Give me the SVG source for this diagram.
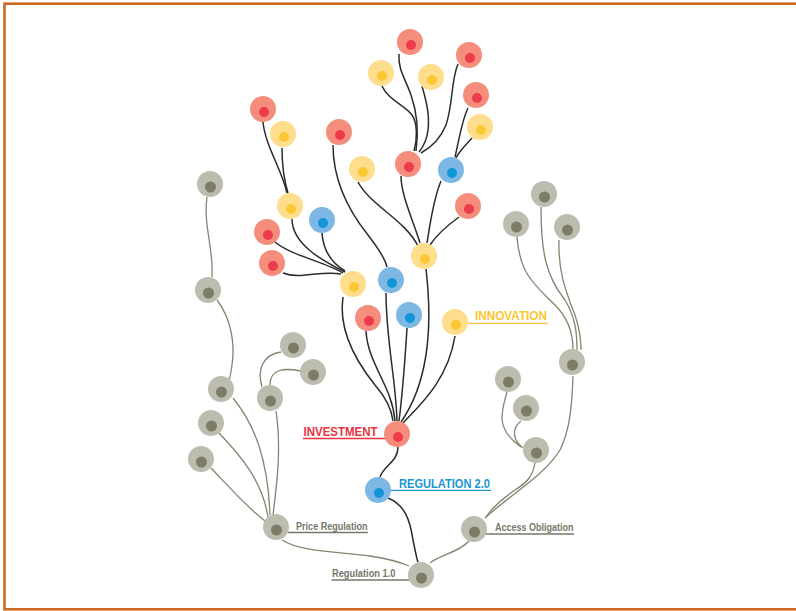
<svg xmlns="http://www.w3.org/2000/svg" width="796" height="611" viewBox="0 0 796 611">
<style>
.e{fill:none;stroke:#2b2b2b;stroke-width:1.5}
.g{fill:none;stroke:#84846f;stroke-width:1.3}
.ro{fill:#f58d7d}.ri{fill:#ec3b4b}
.yo{fill:#fedd8c}.yi{fill:#fcc733}
.bo{fill:#7cb8e3}.bi{fill:#1195d6}
.go{fill:#bdbdaf}.gi{fill:#7c7c67}
.lbl{font-family:"Liberation Sans",Arial,sans-serif;font-weight:bold}
.gl{font-size:10px;fill:#77776a}
.ul{stroke-width:1.3}
</style>
<defs>
<g id="red"><circle class="ro" r="13"/><circle class="ri" cx="1" cy="3" r="5"/></g>
<g id="yel"><circle class="yo" r="13"/><circle class="yi" cx="1" cy="3" r="5"/></g>
<g id="blu"><circle class="bo" r="13"/><circle class="bi" cx="1" cy="3" r="5"/></g>
<g id="gry"><circle class="go" r="13"/><circle class="gi" cx="0.5" cy="3" r="5.5"/></g>
</defs>
<rect x="4.5" y="3.7" width="820" height="605.6" fill="none" stroke="#cd6a1f" stroke-width="2.6"/>
<g id="connectors">
<path class="e" d="M399,54 C398,70 405,78 411,95 C417,112 419,130 416,151"/>
<path class="e" d="M382,86 C388,100 405,105 412,115 C418,124 417,140 414,151"/>
<path class="e" d="M422,86 C426,100 430,115 428,130 C427,140 423,147 419,152"/>
<path class="e" d="M458,64 C451,80 453,105 446,125 C440,140 430,148 421,153"/>
<path class="e" d="M468,108 C462,120 459,140 455,157"/>
<path class="e" d="M472,138 C466,145 460,150 456,158"/>
<path class="e" d="M401,176 C401,195 413,220 420,243"/>
<path class="e" d="M441,181 C433,200 430,225 427,243"/>
<path class="e" d="M358,182 C370,205 405,220 418,246"/>
<path class="e" d="M459,217 C448,225 436,236 430,245"/>
<path class="e" d="M333,145 C333,180 348,210 368,235 C378,248 385,258 387,267"/>
<path class="e" d="M263,122 C265,145 282,170 287,193"/>
<path class="e" d="M282,148 C282,165 284,180 288,193"/>
<path class="e" d="M292,219 C292,245 325,262 345,272"/>
<path class="e" d="M322,233 C323,250 332,263 345,271"/>
<path class="e" d="M275,242 C290,255 325,262 343,273"/>
<path class="e" d="M283,273 C300,280 320,270 341,274"/>
<path class="e" d="M343,297 C338,330 355,360 375,385 C388,400 392,412 393,421"/>
<path class="e" d="M366,331 C368,365 392,385 395,421"/>
<path class="e" d="M386,293 C386,340 396,380 397,421"/>
<path class="e" d="M407,328 C405,360 403,390 399,421"/>
<path class="e" d="M426,269 C432,320 430,380 401,422"/>
<path class="e" d="M455,336 C448,380 420,405 403,423"/>
<path class="e" d="M398,447 C398,462 384,465 380,477"/>
<path class="e" d="M388,498 C405,505 410,520 413,540 C416,555 417,560 418,562"/>
<path class="g" d="M207,197 C203,225 214,250 212,277"/>
<path class="g" d="M217,300 C232,320 235,345 232,365 C231,372 230,378 229,380"/>
<path class="g" d="M233,398 C255,425 268,460 270,515"/>
<path class="g" d="M281,352 C262,355 257,370 262,387"/>
<path class="g" d="M301,371 C285,368 270,368 270,385"/>
<path class="g" d="M276,411 C282,450 276,490 273,515"/>
<path class="g" d="M219,433 C240,455 262,480 268,517"/>
<path class="g" d="M211,468 C232,490 250,510 265,521"/>
<path class="g" d="M282,540 C300,552 340,552 370,556 C390,559 402,563 409,566"/>
<path class="g" d="M470,540 C460,552 440,555 430,563"/>
<path class="g" d="M573,376 C572,405 570,430 560,450 C545,475 510,495 485,518"/>
<path class="g" d="M535,463 C533,475 528,482 515,490 C505,497 492,508 486,517"/>
<path class="g" d="M507,392 C500,415 497,430 521,447"/>
<path class="g" d="M521,421 C512,428 512,440 523,448"/>
<path class="g" d="M517,237 C520,275 535,285 555,305 C570,320 573,335 573,349"/>
<path class="g" d="M541,207 C541,250 545,275 565,300 C576,318 577,335 577,350"/>
<path class="g" d="M559,240 C558,270 565,290 575,315 C580,330 581,340 581,350"/>
</g>
<g id="n-r1"><use href="#red" x="410" y="42"/></g>
<g id="n-r2"><use href="#red" x="469" y="55"/></g>
<g id="n-r3"><use href="#red" x="476" y="95"/></g>
<g id="n-r4"><use href="#red" x="263" y="109"/></g>
<g id="n-r5"><use href="#red" x="339" y="132"/></g>
<g id="n-r6"><use href="#red" x="408" y="164"/></g>
<g id="n-r7"><use href="#red" x="468" y="206"/></g>
<g id="n-r8"><use href="#red" x="267" y="232"/></g>
<g id="n-r9"><use href="#red" x="272" y="263"/></g>
<g id="n-r10"><use href="#red" x="368" y="318"/></g>
<g id="n-y1"><use href="#yel" x="381" y="73"/></g>
<g id="n-y2"><use href="#yel" x="431" y="77"/></g>
<g id="n-y3"><use href="#yel" x="480" y="127"/></g>
<g id="n-y4"><use href="#yel" x="283" y="134"/></g>
<g id="n-y5"><use href="#yel" x="362" y="169"/></g>
<g id="n-y6"><use href="#yel" x="290" y="206"/></g>
<g id="n-y7"><use href="#yel" x="424" y="256"/></g>
<g id="n-y8"><use href="#yel" x="353" y="284"/></g>
<g id="n-b1"><use href="#blu" x="451" y="170"/></g>
<g id="n-b2"><use href="#blu" x="322" y="220"/></g>
<g id="n-b3"><use href="#blu" x="391" y="280"/></g>
<g id="n-b4"><use href="#blu" x="409" y="315"/></g>
<g id="n-g1"><use href="#gry" x="210" y="184"/></g>
<g id="n-g2"><use href="#gry" x="208" y="290"/></g>
<g id="n-g3"><use href="#gry" x="221" y="389"/></g>
<g id="n-g4"><use href="#gry" x="293" y="345"/></g>
<g id="n-g5"><use href="#gry" x="313" y="372"/></g>
<g id="n-g6"><use href="#gry" x="270" y="398"/></g>
<g id="n-g7"><use href="#gry" x="211" y="423"/></g>
<g id="n-g8"><use href="#gry" x="201" y="459"/></g>
<g id="n-g9"><use href="#gry" x="544" y="194"/></g>
<g id="n-g10"><use href="#gry" x="516" y="224"/></g>
<g id="n-g11"><use href="#gry" x="567" y="227"/></g>
<g id="n-g12"><use href="#gry" x="572" y="362"/></g>
<g id="n-g13"><use href="#gry" x="508" y="379"/></g>
<g id="n-g14"><use href="#gry" x="526" y="408"/></g>
<g id="n-g15"><use href="#gry" x="536" y="450"/></g>
<g id="n-innovation">
<line class="ul" x1="468" y1="323.3" x2="548" y2="323.3" stroke="#fcc532"/>
<use href="#yel" x="455" y="322"/>
<text class="lbl" x="475" y="320" font-size="12" fill="#fcc532" textLength="72" lengthAdjust="spacingAndGlyphs">INNOVATION</text>
</g>
<g id="n-investment">
<line class="ul" x1="303" y1="438.5" x2="386" y2="438.5" stroke="#e8333f"/>
<use href="#red" x="397" y="434"/>
<text class="lbl" x="303.5" y="435.5" font-size="13" fill="#e8333f" textLength="74" lengthAdjust="spacingAndGlyphs">INVESTMENT</text>
</g>
<g id="n-regulation2">
<line class="ul" x1="390" y1="490.3" x2="491" y2="490.3" stroke="#1a96d4"/>
<use href="#blu" x="378" y="490"/>
<text class="lbl" x="399" y="487.5" font-size="12" fill="#1a96d4" textLength="91" lengthAdjust="spacingAndGlyphs">REGULATION 2.0</text>
</g>
<g id="n-price">
<line class="ul" x1="288" y1="532.5" x2="368" y2="532.5" stroke="#77776a"/>
<use href="#gry" x="276" y="527"/>
<text class="lbl gl" x="296" y="529.5" textLength="71.5" lengthAdjust="spacingAndGlyphs">Price Regulation</text>
</g>
<g id="n-access">
<line class="ul" x1="486" y1="534" x2="574" y2="534" stroke="#77776a"/>
<use href="#gry" x="474" y="529"/>
<text class="lbl gl" x="495" y="531" textLength="78.5" lengthAdjust="spacingAndGlyphs">Access Obligation</text>
</g>
<g id="n-regulation1">
<line class="ul" x1="331.5" y1="580" x2="409" y2="580" stroke="#77776a"/>
<use href="#gry" x="421" y="575"/>
<text class="lbl gl" x="332" y="577" textLength="63.5" lengthAdjust="spacingAndGlyphs">Regulation 1.0</text>
</g>
</svg>
